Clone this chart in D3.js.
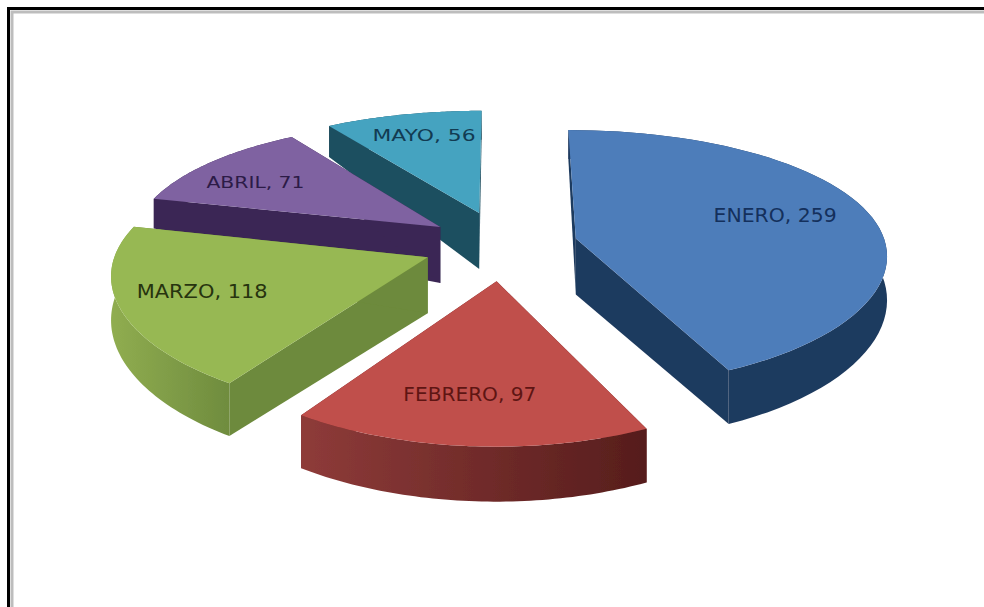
<!DOCTYPE html>
<html>
<head>
<meta charset="utf-8">
<script src="https://cdnjs.cloudflare.com/ajax/libs/d3/7.8.5/d3.min.js"></script>
<style>html,body{margin:0;padding:0;background:#fff}svg{display:block}</style>
</head>
<body>
<svg id="c" width="984" height="607"></svg>
<script>
// --- data ---
const months = ["ENERO", "FEBRERO", "MARZO", "ABRIL", "MAYO"];
const counts = [259, 97, 118, 71, 56];

// --- styles ---
const topColors = ["#4d7dba", "#c04f4c", "#97b853", "#7f62a1", "#45a3c0"];
const wallFrom  = ["#1f3a5e", "#8e3b39", "#90ad50", "#3b2754", "#1f4f60"];
const wallTo    = ["#1f3a5e", "#561d1c", "#6f8c3e", "#3b2754", "#1f4f60"];
const cutColors = ["#1f3a5e", "#6e2a29", "#6d8a3c", "#3b2754", "#1f4f60"];
const textColors = ["#14305c", "#5e1513", "#27340f", "#2c1b47", "#123b52"];

// --- layout ---
const explode   = [75, 85, 80, 78, 85];
const labelFrac = [0.695, 0.725, 0.735, 0.75, 0.76];
const labelTurn = [-0.07, 0.03, 0.03, -0.07, 0.02];
const labelWide = [123, 133, 131, 98, 103];
const labelSize = [19, 19, 19, 16, 16];
const rimTrim   = [0, 0, 0, -9, 0];
const paintOrder = [4, 3, 2, 0, 1];
const cx = 503, cy = 245, R = 310, tilt = 0.41, perspX = 0.00037, perspY = 0.0005;
const apexDrop = 56;

const svg = d3.select("#c");
const defs = svg.append("defs");
defs.append("filter").attr("id", "soft").append("feGaussianBlur").attr("stdDeviation", 0.45);

// frame (open at right and bottom, cropped by the page)
const frame = svg.append("g").attr("fill", "none");
frame.append("path").attr("d", "M8.5,607V8.5H984").attr("stroke", "#000").attr("stroke-width", 3);
frame.append("path").attr("d", "M12,607V12H984").attr("stroke", "#bdbdbd").attr("stroke-width", 3);

const pie = d3.pie().sort(null).value(d => d)(counts);
const line = d3.line().x(d => d[0]).y(d => d[1]);

function point(i, t, a) {
  const s = pie[i], mid = (s.startAngle + s.endAngle) / 2;
  const X = explode[i] * Math.sin(mid) + t * R * Math.sin(a);
  const Y = explode[i] * Math.cos(mid) + t * R * Math.cos(a);
  const h = apexDrop * (1 - t) + (42 - 13 * Math.cos(a) + rimTrim[i]) * t;
  return { x: cx + X / (1 + perspX * Y), y: cy - Y * tilt / (1 + perspY * Y), h };
}
const xy = p => [p.x, p.y];
const low = p => [p.x, p.y + p.h];
const sweep = (a0, a1) => d3.range(0, 61).map(k => a0 + (a1 - a0) * k / 60);

const art = svg.append("g").attr("filter", "url(#soft)");

paintOrder.forEach(i => {
  const s = pie[i];
  const rim = sweep(s.startAngle, s.endAngle).map(a => point(i, 1, a));
  const apex = point(i, 0, 0);
  const xs = rim.map(p => p.x);

  const gid = "wall" + i;
  const grad = defs.append("linearGradient").attr("id", gid)
    .attr("gradientUnits", "userSpaceOnUse")
    .attr("x1", d3.min(xs)).attr("x2", d3.max(xs)).attr("y1", 0).attr("y2", 0);
  grad.append("stop").attr("offset", 0).attr("stop-color", wallFrom[i]);
  grad.append("stop").attr("offset", 1).attr("stop-color", wallTo[i]);

  const g = art.append("g");
  // the two cut faces
  [rim[0], rim[rim.length - 1]].forEach(e => {
    g.append("path")
      .attr("d", line([xy(apex), xy(e), low(e), low(apex)]) + "Z")
      .attr("fill", cutColors[i]);
  });
  // the outer wall
  g.append("path")
    .attr("d", line(rim.map(xy).concat(rim.map(low).reverse())) + "Z")
    .attr("fill", `url(#${gid})`);
  // the top face
  g.append("path")
    .attr("d", line([xy(apex)].concat(rim.map(xy))) + "Z")
    .attr("fill", topColors[i]);
});

pie.forEach((s, i) => {
  const mid = (s.startAngle + s.endAngle) / 2;
  const p = point(i, labelFrac[i], mid + labelTurn[i]);
  svg.append("text")
    .attr("x", p.x).attr("y", p.y)
    .attr("text-anchor", "middle").attr("dominant-baseline", "central")
    .attr("font-family", "'DejaVu Sans', sans-serif")
    .attr("font-size", labelSize[i])
    .attr("textLength", labelWide[i])
    .attr("lengthAdjust", "spacingAndGlyphs")
    .attr("fill", textColors[i])
    .text(`${months[i]}, ${counts[i]}`);
});
</script>
</body>
</html>
